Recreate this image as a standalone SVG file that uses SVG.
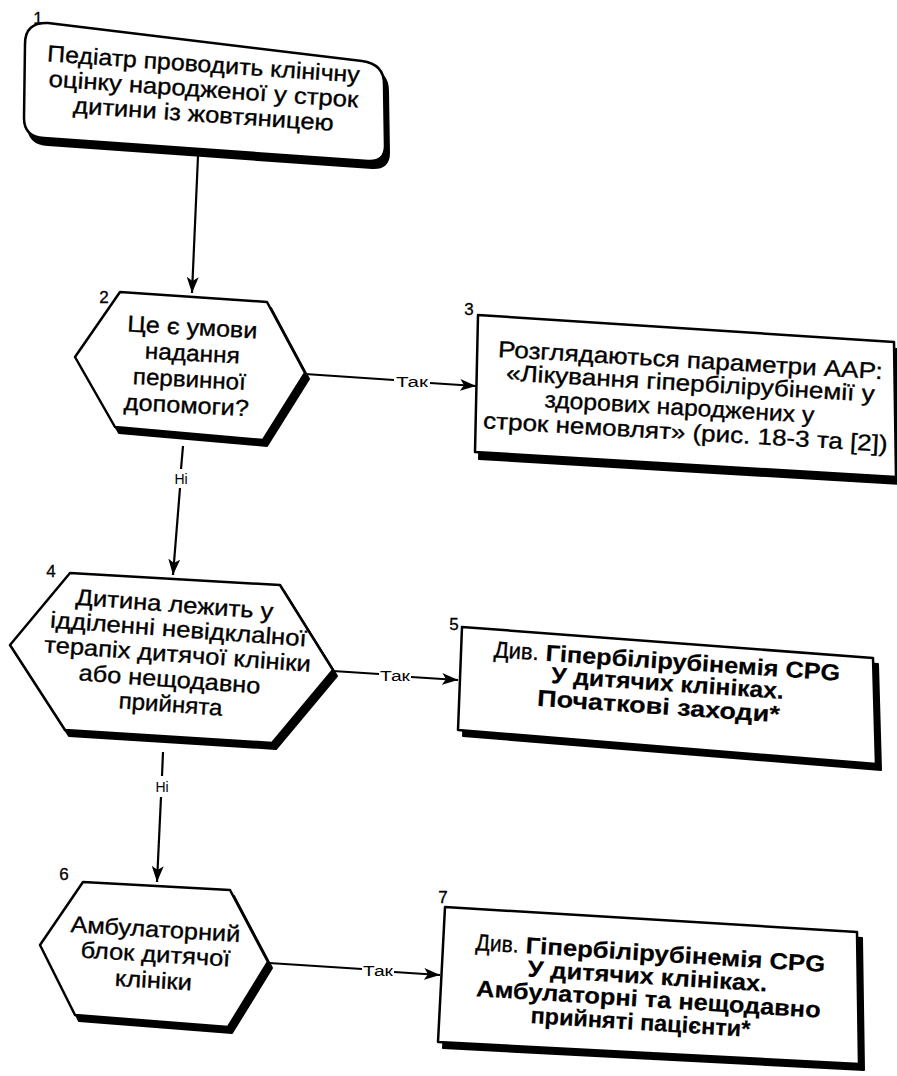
<svg xmlns="http://www.w3.org/2000/svg" width="897" height="1076" viewBox="0 0 897 1076">
  <defs>
    <marker id="arrow" markerUnits="userSpaceOnUse" markerWidth="16" markerHeight="12" refX="16" refY="6" orient="auto">
      <path d="M0,0 L16,6 L0,12 L4,6 Z" fill="#000"/>
    </marker>
    <style>
      .shape { fill: #fff; stroke: #000; stroke-width: 2.5; stroke-linejoin: round; }
      .shadow { fill: #000; stroke: #000; stroke-width: 2; stroke-linejoin: round; }
      .t { font-family: "Liberation Sans", Arial, sans-serif; font-size: 23px; fill: #000; stroke: #000; stroke-width: 0.35; text-anchor: middle; }
      .b { font-weight: bold; stroke-width: 0.2; }
      .num { font-family: "Liberation Sans", Arial, sans-serif; font-size: 17px; fill: #000; stroke: #000; stroke-width: 0.3; text-anchor: middle; }
      .lbl { font-family: "Liberation Sans", Arial, sans-serif; font-size: 14px; fill: #000; text-anchor: middle; }
      .edge { fill: none; stroke: #000; stroke-width: 2.2; }
    </style>
  </defs>
  <rect width="897" height="1076" fill="#fff"/>

  <!-- connectors -->
  <g id="connectors">
    <line class="edge" x1="198" y1="156" x2="192" y2="293" marker-end="url(#arrow)"/>

    <line class="edge" x1="305" y1="374" x2="394" y2="380"/>
    <line class="edge" x1="430" y1="383" x2="476" y2="386" marker-end="url(#arrow)"/>
    <text class="lbl" x="412" y="387" textLength="32" lengthAdjust="spacingAndGlyphs">Так</text>

    <line class="edge" x1="183" y1="446" x2="181" y2="469"/>
    <line class="edge" x1="180" y1="488" x2="173" y2="575" marker-end="url(#arrow)"/>
    <text class="lbl" x="181" y="484">Ні</text>

    <line class="edge" x1="333" y1="671" x2="379" y2="674"/>
    <line class="edge" x1="411" y1="677" x2="458" y2="680" marker-end="url(#arrow)"/>
    <text class="lbl" x="395" y="681" textLength="30" lengthAdjust="spacingAndGlyphs">Так</text>

    <line class="edge" x1="163" y1="752" x2="162" y2="776"/>
    <line class="edge" x1="161" y1="797" x2="157" y2="882" marker-end="url(#arrow)"/>
    <text class="lbl" x="162" y="792">Ні</text>

    <line class="edge" x1="269" y1="963" x2="362" y2="969"/>
    <line class="edge" x1="394" y1="972" x2="440" y2="975" marker-end="url(#arrow)"/>
    <text class="lbl" x="378" y="976" textLength="30" lengthAdjust="spacingAndGlyphs">Так</text>
  </g>

  <!-- 1: start -->
  <g id="node1">
    <path class="shadow" transform="translate(4,7)" d="M25,44 Q25,22 48,23 L362,61 Q384,64 384,84 L385,146 Q385,162 368,161 L44,138 Q24,137 24,118 Z"/>
    <path class="shape" d="M25,44 Q25,22 48,23 L362,61 Q384,64 384,84 L385,146 Q385,162 368,161 L44,138 Q24,137 24,118 Z"/>
    <text class="num" x="38" y="24">1</text>
    <text class="t" x="203" y="72" textLength="313" lengthAdjust="spacingAndGlyphs" transform="rotate(3.9 203 72)">Педіатр проводить клінічну</text>
    <text class="t" x="203" y="97" textLength="310" lengthAdjust="spacingAndGlyphs" transform="rotate(3.9 203 97)">оцінку народженої у строк</text>
    <text class="t" x="203" y="122" textLength="261" lengthAdjust="spacingAndGlyphs" transform="rotate(3.9 203 122)">дитини із жовтяницею</text>
  </g>

  <!-- 2: decision -->
  <g id="node2">
    <polygon class="shadow" transform="translate(4,6)" points="120,292 267,302 305,373 263,440 115,427 75,357"/>
    <polygon class="shape" points="120,292 267,302 305,373 263,440 115,427 75,357"/>
    <text class="num" x="104" y="303">2</text>
    <text class="t" x="192" y="335" textLength="130" lengthAdjust="spacingAndGlyphs" transform="rotate(3 192 335)">Це є умови</text>
    <text class="t" x="192" y="361" textLength="95" lengthAdjust="spacingAndGlyphs" transform="rotate(3 192 361)">надання</text>
    <text class="t" x="189" y="387" textLength="113" lengthAdjust="spacingAndGlyphs" transform="rotate(3 189 387)">первинної</text>
    <text class="t" x="186" y="413" textLength="125" lengthAdjust="spacingAndGlyphs" transform="rotate(3 186 413)">допомоги?</text>
  </g>

  <!-- 3: primary care -->
  <g id="node3">
    <polygon class="shadow" transform="translate(4,7)" points="478,315 894,342 896,477 475,452"/>
    <polygon class="shape" points="478,315 894,342 896,477 475,452"/>
    <text class="num" x="469" y="315">3</text>
    <g font-size="22">
      <text class="t" x="690" y="368" textLength="385" lengthAdjust="spacingAndGlyphs" transform="rotate(3.3 690 368)">Розглядаються параметри ААР:</text>
      <text class="t" x="690" y="391" textLength="369" lengthAdjust="spacingAndGlyphs" transform="rotate(3.3 690 391)">«Лікування гіпербілірубінемії у</text>
      <text class="t" x="679" y="415" textLength="270" lengthAdjust="spacingAndGlyphs" transform="rotate(3.3 679 415)">здорових народжених у</text>
      <text class="t" x="685" y="440" textLength="405" lengthAdjust="spacingAndGlyphs" transform="rotate(3.3 685 440)">строк немовлят» (рис. 18-3 та [2])</text>
    </g>
  </g>

  <!-- 4: decision -->
  <g id="node4">
    <polygon class="shadow" transform="translate(4,6)" points="70,573 280,585 333,670 272,743 65,730 10,645"/>
    <polygon class="shape" points="70,573 280,585 333,670 272,743 65,730 10,645"/>
    <text class="num" x="51" y="577">4</text>
    <text class="t" x="174" y="612" textLength="198" lengthAdjust="spacingAndGlyphs" transform="rotate(4.2 174 612)">Дитина лежить у</text>
    <text class="t" x="178" y="637" textLength="257" lengthAdjust="spacingAndGlyphs" transform="rotate(4.2 178 637)">ідділенні невідклаlної</text>
    <text class="t" x="177" y="662" textLength="267" lengthAdjust="spacingAndGlyphs" transform="rotate(4.2 177 662)">терапіх дитячої клініки</text>
    <text class="t" x="169" y="687" textLength="182" lengthAdjust="spacingAndGlyphs" transform="rotate(4.2 169 687)">або нещодавно</text>
    <text class="t" x="170" y="712" textLength="104" lengthAdjust="spacingAndGlyphs" transform="rotate(4.2 170 712)">прийнята</text>
  </g>

  <!-- 5: inpatient reference -->
  <g id="node5">
    <polygon class="shadow" transform="translate(5,6)" points="462,627 873,658 876,764 458,730"/>
    <polygon class="shape" points="462,627 873,658 876,764 458,730"/>
    <text class="num" x="454" y="630">5</text>
    <g font-size="22" transform="rotate(3.9 667 669)">
      <text class="t" x="538" y="669" style="text-anchor:end" textLength="45" lengthAdjust="spacingAndGlyphs">Див.</text>
      <text class="t b" x="545" y="669" style="text-anchor:start" textLength="295" lengthAdjust="spacingAndGlyphs">Гіпербілірубінемія CPG</text>
    </g>
    <text class="t b" font-size="22" x="667" y="691" textLength="233" lengthAdjust="spacingAndGlyphs" transform="rotate(3.9 667 691)">У дитячих клініках.</text>
    <text class="t b" font-size="22" x="658" y="714" textLength="243" lengthAdjust="spacingAndGlyphs" transform="rotate(3.9 658 714)">Початкові заходи*</text>
  </g>

  <!-- 6: decision -->
  <g id="node6">
    <polygon class="shadow" transform="translate(4,6)" points="83,882 230,890 268,962 228,1027 75,1015 40,945"/>
    <polygon class="shape" points="83,882 230,890 268,962 228,1027 75,1015 40,945"/>
    <text class="num" x="64" y="880">6</text>
    <text class="t" x="155" y="937" textLength="170" lengthAdjust="spacingAndGlyphs" transform="rotate(3.4 155 937)">Амбулаторний</text>
    <text class="t" x="155" y="962" textLength="150" lengthAdjust="spacingAndGlyphs" transform="rotate(3.4 155 962)">блок дитячої</text>
    <text class="t" x="153" y="988" textLength="77" lengthAdjust="spacingAndGlyphs" transform="rotate(3.4 153 988)">клініки</text>
  </g>

  <!-- 7: outpatient reference -->
  <g id="node7">
    <polygon class="shadow" transform="translate(5,6)" points="445,907 857,932 859,1064 438,1042"/>
    <polygon class="shape" points="445,907 857,932 859,1064 438,1042"/>
    <text class="num" x="443" y="903">7</text>
    <g font-size="22" transform="rotate(3.6 650 961)">
      <text class="t" x="518" y="961" style="text-anchor:end" textLength="43" lengthAdjust="spacingAndGlyphs">Див.</text>
      <text class="t b" x="525" y="961" style="text-anchor:start" textLength="300" lengthAdjust="spacingAndGlyphs">Гіпербілірубінемія CPG</text>
    </g>
    <text class="t b" font-size="22" x="647" y="984" textLength="240" lengthAdjust="spacingAndGlyphs" transform="rotate(3.6 647 984)">У дитячих клініках.</text>
    <text class="t b" font-size="22" x="648" y="1007" textLength="345" lengthAdjust="spacingAndGlyphs" transform="rotate(3.6 648 1007)">Амбулаторні та нещодавно</text>
    <text class="t b" font-size="22" x="640" y="1030" textLength="220" lengthAdjust="spacingAndGlyphs" transform="rotate(3.6 640 1030)">прийняті пацієнти*</text>
  </g>
</svg>
